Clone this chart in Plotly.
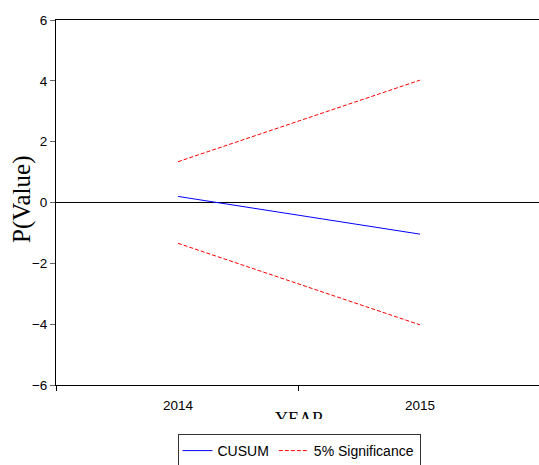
import plotly.graph_objects as go

years = [2014, 2015]
cusum = [0.20, -1.04]
upper_5 = [1.3407, 4.022]
lower_5 = [-1.3407, -4.022]
y_ticks = [-6, -4, -2, 0, 2, 4, 6]

fig = go.Figure()
fig.add_trace(go.Scatter(x=years, y=cusum, mode="lines", name="CUSUM",
                         line=dict(color="#0000ff", width=1)))
fig.add_trace(go.Scatter(x=years, y=upper_5, mode="lines", name="5% Significance",
                         legendgroup="sig",
                         line=dict(color="#ff0000", width=1, dash="4px,2px")))
fig.add_trace(go.Scatter(x=years, y=lower_5, mode="lines", name="5% Significance",
                         legendgroup="sig", showlegend=False,
                         line=dict(color="#ff0000", width=1, dash="4px,2px")))

W, H = 539, 465
ml, mt, mb, mr = 56, 20, 80, 0
pw = W - ml - mr
ph = H - mt - mb

def px_x(p):
    return (p - ml) / pw

def px_y(p):
    return (H - mb - p) / ph

fig.update_layout(
    width=W, height=H,
    margin=dict(l=ml, r=mr, t=mt, b=mb, pad=0, autoexpand=False),
    paper_bgcolor="white", plot_bgcolor="white",
    font=dict(family="Liberation Sans, Arial", size=13.5, color="black"),
    showlegend=True,
    legend=dict(orientation="h", x=px_x(299), xanchor="center",
                y=px_y(434), yanchor="top",
                bordercolor="#333333", borderwidth=1,
                font=dict(family="Liberation Sans, Arial", size=14, color="black"),
                itemwidth=30, tracegroupgap=0),
    xaxis=dict(range=[2013.496, 2015.492], tickvals=years, ticktext=[str(y) for y in years],
               ticks="", showgrid=False, zeroline=False,
               showline=True, linecolor="black", linewidth=1, mirror=True,
               tickfont=dict(size=13.5), ticklabelstandoff=8,
               minor=dict(tick0=2013.5, dtick=1, ticks="outside", ticklen=5,
                          tickcolor="black", showgrid=False)),
    yaxis=dict(range=[-6, 6], tickvals=y_ticks, ticks="outside", ticklen=5,
               tickcolor="#666666",
               showgrid=False, zeroline=True, zerolinecolor="black", zerolinewidth=1,
               showline=True, linecolor="black", linewidth=1, mirror=False,
               tickfont=dict(size=13.5)),
)

fig.add_annotation(text="P(Value)", xref="paper", yref="paper", x=px_x(22), y=px_y(200),
                   xanchor="center", yanchor="middle", textangle=-90, showarrow=False,
                   font=dict(family="Liberation Serif, Times New Roman", size=25, color="black"))
fig.add_annotation(text="YEAR", xref="paper", yref="paper", x=px_x(299), y=px_y(407),
                   xanchor="center", yanchor="top", showarrow=False,
                   font=dict(family="Liberation Serif, Times New Roman", size=18, color="black"))
fig.add_annotation(text=" ", xref="paper", yref="paper", x=px_x(299), y=px_y(419),
                   xanchor="center", yanchor="top", showarrow=False,
                   width=80, height=12, bgcolor="white", borderpad=0, borderwidth=0)

fig.write_html("out.html", config={"displayModeBar": False},
               post_script="document.body.style.margin='0';document.body.style.overflow='hidden';")
